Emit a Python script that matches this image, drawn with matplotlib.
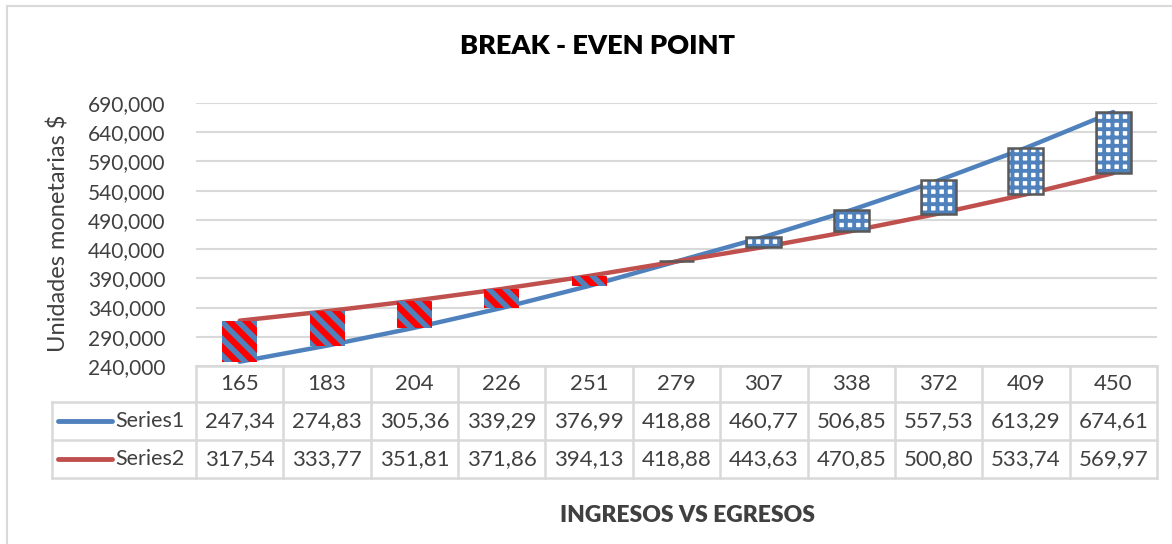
import matplotlib
matplotlib.use("Agg")
import matplotlib.pyplot as plt
from matplotlib.lines import Line2D

# Break-even data (units sold vs. money)
units = [165, 183, 204, 226, 251, 279, 307, 338, 372, 409, 450]
series1 = [247340, 274830, 305360, 339290, 376990, 418880,
           460770, 506850, 557530, 613290, 674610]
series2 = [317540, 333770, 351810, 371860, 394130, 418880,
           443630, 470850, 500800, 533740, 569970]
series_names = ["Series1", "Series2"]
yticks = list(range(240000, 690001, 50000))

BLUE = "#4F81BD"
RED = "#C0504D"
GRID = "#D9D9D9"
TEXT = "#404040"

plt.rcParams['font.family'] = ['Lato', 'DejaVu Sans']

W, H = 1172, 544
fig = plt.figure(figsize=(W / 100, H / 100), dpi=100)

# plot area in pixel terms
left, right, top, bottom = 196, 1157, 103, 366
ax = fig.add_axes([left / W, 1 - bottom / H, (right - left) / W, (bottom - top) / H])

x = list(range(len(units)))
ax.set_xlim(-0.5, len(units) - 0.5)
ax.set_ylim(yticks[0], yticks[-1])

# lines
ax.plot(x, series1, color=BLUE, lw=3.2, solid_capstyle="round", zorder=3)
ax.plot(x, series2, color=RED, lw=3.2, solid_capstyle="round", zorder=3)

# up/down bars between the two series
bw = 0.4
for xi, a, b in zip(x, series1, series2):
    lo, hi = min(a, b), max(a, b)
    if a < b:
        ax.bar(xi, hi - lo, bottom=lo, width=bw, color="#FF0000", lw=0, zorder=4)
        with plt.rc_context({'hatch.linewidth': 4.0}):
            ax.bar(xi, hi - lo, bottom=lo, width=bw, facecolor="none",
                   edgecolor=BLUE, hatch="\\\\", lw=0, zorder=5)
    else:
        with plt.rc_context({'hatch.linewidth': 2.8}):
            ax.bar(xi, hi - lo, bottom=lo, width=bw, facecolor="white",
                   edgecolor=BLUE, hatch="++", lw=0, zorder=4)
        ax.bar(xi, hi - lo, bottom=lo, width=bw, facecolor="none",
               edgecolor="#595959", lw=1.8, zorder=5)

ax.set_yticks(yticks)
ax.set_yticklabels([f"{v:,}" for v in yticks], fontsize=15, color=TEXT)
ax.tick_params(axis="y", length=0, pad=22)
ax.set_xticks([])
ax.grid(axis="y", color=GRID, lw=1.5)
ax.set_axisbelow(True)
for s in ax.spines.values():
    s.set_visible(False)

# data table underneath the plot
px = 1.0 / (bottom - top)          # one pixel in axes-y units
row_edges = [0, -36 * px, -74 * px, -112 * px]
n = len(units)
leg_left = -0.5 - (left - 52) / ((right - left) / n)
bt = ax.get_xaxis_transform()

ax.plot([-0.5, n - 0.5], [0, 0], transform=bt, clip_on=False, color=GRID, lw=1.8)
for ry in row_edges[1:]:
    ax.plot([leg_left, n - 0.5], [ry, ry], transform=bt, clip_on=False, color=GRID, lw=1.8)
for k in range(n + 1):
    ax.plot([k - 0.5, k - 0.5], [0, row_edges[-1]], transform=bt, clip_on=False,
            color=GRID, lw=1.8)
ax.plot([leg_left, leg_left], [row_edges[1], row_edges[-1]], transform=bt,
        clip_on=False, color=GRID, lw=1.8)

def mid(i):
    return (row_edges[i] + row_edges[i + 1]) / 2

for xi, u in zip(x, units):
    ax.text(xi, mid(0), str(u), transform=bt, ha="center", va="center",
            fontsize=16, color=TEXT)

for r, (vals, name, col) in enumerate(zip([series1, series2], series_names, [BLUE, RED]), start=1):
    for xi, v in zip(x, vals):
        ax.text(xi, mid(r), f"{v / 1000:.2f}".replace(".", ","), transform=bt,
                ha="center", va="center", fontsize=16, color=TEXT)
    key_x0 = leg_left + 0.07
    ax.add_line(Line2D([key_x0, key_x0 + 0.62], [mid(r), mid(r)], transform=bt,
                       color=col, lw=3.5, solid_capstyle="round", clip_on=False))
    ax.text(key_x0 + 0.66, mid(r), name, transform=bt, ha="left", va="center",
            fontsize=15.5, color=TEXT)

# titles
fig.text(597 / W, 1 - 46 / H, "BREAK - EVEN POINT", ha="center", va="center",
         fontsize=19.5, fontweight="heavy", color="black")
fig.text(687 / W, 1 - 516 / H, "INGRESOS VS EGRESOS", ha="center", va="center",
         fontsize=16.5, fontweight="heavy", color=TEXT)
fig.text(58 / W, 1 - 233 / H, "Unidades monetarias $", ha="center", va="center",
         rotation=90, fontsize=17, color=TEXT)

# chart area border (top and left edges)
fig.add_artist(Line2D([7 / W, 1], [1 - 6 / H, 1 - 6 / H], transform=fig.transFigure,
                      color=GRID, lw=1.5))
fig.add_artist(Line2D([7 / W, 7 / W], [1 - 6 / H, 0], transform=fig.transFigure,
                      color=GRID, lw=1.5))

fig.savefig("out.png", dpi=100)
